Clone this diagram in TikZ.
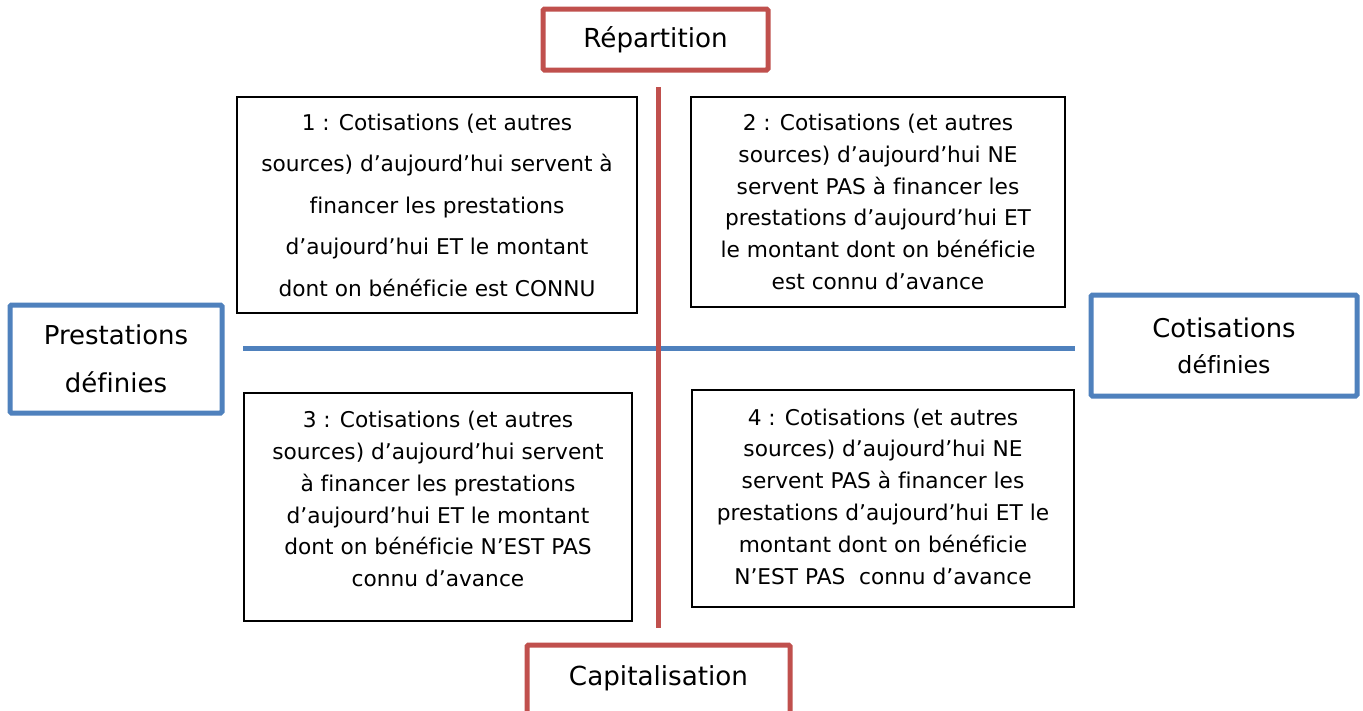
\documentclass[tikz,border=0pt]{standalone}
\usepackage{fontspec}
\setmainfont{DejaVu Sans}[Ligatures=NoCommon]
\definecolor{axred}{HTML}{C0504D}
\definecolor{axblue}{HTML}{4F81BD}
\begin{document}
\begin{tikzpicture}[x=1pt,y=-1pt,
  qtext/.style={align=center, inner sep=0pt, font=\fontsize{21.7}{31.8}\selectfont},
  qbox/.style={draw=black, line width=1.2pt, inner sep=0pt, qtext},
  redbox/.style={draw=axred, line width=5pt, rounded corners=1.5pt, fill=white, inner sep=0pt, align=center, font=\fontsize{26.2}{40}\selectfont},
  bluebox/.style={draw=axblue, line width=5pt, rounded corners=1.5pt, fill=white, inner sep=0pt, align=center, font=\fontsize{26}{48}\selectfont},
  redaxis/.style={draw=axred, line width=5pt},
  blueaxis/.style={draw=axblue, line width=5pt}]
\useasboundingbox (0,0) rectangle (1363,710);
\fill[white] (0,0) rectangle (1363,710);
% axes
\coordinate (vtop) at (658,87);
\coordinate (vbot) at (658,628);
\coordinate (hl) at (243,348);
\coordinate (hr) at (1075,348);
\draw[blueaxis] (hl) -- (hr);
\draw[redaxis] (vtop) -- (vbot);
% quadrant boxes
\node[qbox, minimum width=400, minimum height=216, font=\fontsize{21.7}{41.5}\selectfont] (q1) at (437,205)
  {1 : Cotisations (et autres\\sources) d’aujourd’hui servent à\\financer les prestations\\d’aujourd’hui ET le montant\\dont on bénéficie est CONNU};
\node[qbox, minimum width=374, minimum height=210] (q2) at (878,202)
  {2 : Cotisations (et autres\\sources) d’aujourd’hui NE\\servent PAS à financer les\\prestations d’aujourd’hui ET\\le montant dont on bénéficie\\est connu d’avance};
\node[qbox, minimum width=388, minimum height=228,
  label={[qtext, yshift=8pt]center:{3 : Cotisations (et autres\\sources) d’aujourd’hui servent\\à financer les prestations\\d’aujourd’hui ET le montant\\dont on bénéficie N’EST PAS\\connu d’avance}}] (q3) at (438,507) {};
\node[qbox, minimum width=382, minimum height=217,
  label={[qtext, yshift=2pt]center:{4 : Cotisations (et autres\\sources) d’aujourd’hui NE\\servent PAS à financer les\\prestations d’aujourd’hui ET le\\montant dont on bénéficie\\N’EST PAS\ \ connu d’avance}}] (q4) at (883,498.5) {};
% axis labels
\node[redbox, minimum width=225, minimum height=61] (rep) at (655.5,39.5) {Répartition};
\node[redbox, minimum width=263, minimum height=80, text height=14pt, text depth=14pt] (cap) at (658.5,685) {Capitalisation};
\node[bluebox, minimum width=212, minimum height=108] (pd) at (116,359) {Prestations\\définies};
\node[bluebox, minimum width=266, minimum height=101, font=\fontsize{25.8}{36}\selectfont] (cd) at (1224,345.5) {Cotisations\\\fontsize{23.7}{36}\selectfont définies};
\end{tikzpicture}
\end{document}
